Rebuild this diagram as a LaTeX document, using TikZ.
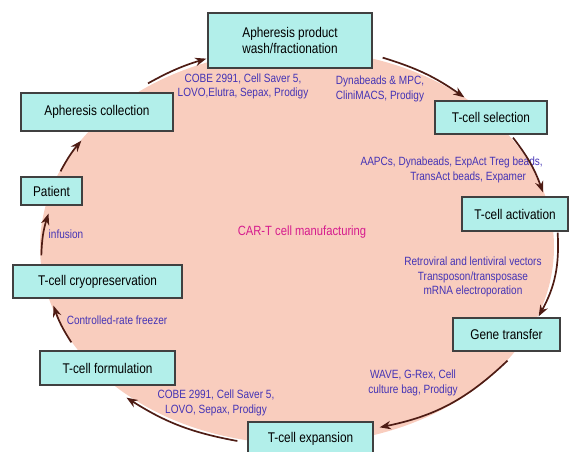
\documentclass[tikz,border=0pt]{standalone}
\usepackage{fontspec}
\setmainfont[FakeStretch=0.84]{Liberation Sans}
\usetikzlibrary{arrows.meta, calc, positioning}

\definecolor{carpink}{HTML}{F9CDBE}
\definecolor{stagecyan}{HTML}{B2EFEA}
\definecolor{toolblue}{HTML}{4433B5}
\definecolor{titlemag}{HTML}{D61C8E}
\definecolor{arrowred}{HTML}{4E1C14}

\tikzset{
  stage/.style={draw=black!75, line width=0.9pt, fill=stagecyan, minimum height=0.85cm,
    inner sep=0pt, align=center, font=\fontsize{10}{12}\selectfont},
  tools/.style={text=toolblue, align=center, inner sep=0pt, font=\fontsize{8.5}{10.5}\selectfont},
  flow/.style={-{Stealth[length=8pt,width=6pt]}, line width=1.2pt, draw=arrowred}
}

\begin{document}
\begin{tikzpicture}[x=0.025cm, y=-0.025cm]
\useasboundingbox (0,0) rectangle (572,452);
\fill[carpink] (297,247) ellipse [x radius=257, y radius=197];

% stages
\node[stage, minimum width=4.1cm, minimum height=1.375cm] (wash) at (290,40.5) {Apheresis product\\wash/fractionation};
\node[stage, minimum width=2.8cm, minimum height=0.825cm] (sel) at (491,117.5) {T-cell selection};
\node[stage, minimum width=2.65cm] (act) at (515,214) {T-cell activation};
\node[stage, minimum width=2.675cm, minimum height=0.825cm] (gene) at (506.5,334.5) {Gene transfer};
\node[stage, minimum width=3.125cm] (exp) at (310.5,439) {T-cell expansion};
\node[stage, minimum width=3.375cm] (form) at (107.5,368) {T-cell formulation};
\node[stage, minimum width=4.225cm, minimum height=0.825cm] (cryo) at (97.5,281.5) {T-cell cryopreservation};
\node[stage, minimum width=1.525cm, minimum height=0.7cm] (pat) at (51.5,191) {Patient};
\node[stage, minimum width=3.8cm, minimum height=0.95cm] (coll) at (97,112) {Apheresis collection};

% tools
\node[tools] (t1) at (243,86.5) {COBE 2991, Cell Saver 5,\\LOVO,Elutra, Sepax, Prodigy};
\node[tools] (t2) at (380,89) {Dynabeads \& MPC,\\CliniMACS, Prodigy};
\node[tools, anchor=east, align=right] (t3) at (543,170) {AAPCs, Dynabeads, ExpAct Treg beads,\\TransAct beads, Expamer\hspace*{1.4em}};
\node[tools] (t4) at (473,277) {Retroviral and lentiviral vectors\\Transposon/transposase\\mRNA electroporation};
\node[tools] (t5) at (413,383) {WAVE, G-Rex, Cell\\culture bag, Prodigy};
\node[tools] (t6) at (216,403) {COBE 2991, Cell Saver 5,\\LOVO, Sepax, Prodigy};
\node[tools] (t7) at (117,320) {Controlled-rate freezer};
\node[tools] (t8) at (66,234) {infusion};
\node[text=titlemag, font=\fontsize{9.5}{11}\selectfont] (title) at (302,232) {CAR-T cell manufacturing};

% cycle
\draw[flow] ($(coll.north)+(51,-9)$) to[bend left=6] ($(wash.south west)+(-1,-10)$);
\draw[flow] ($(wash.south east)+(10,-11)$) to[bend left=9] ($(sel.north west)+(30,-3)$);
\draw[flow] ($(sel.south)+(22,3)$) to[bend left=9] ($(act.north)+(28,-4)$);
\draw[flow] ($(act.south east)+(-11,1)$) to[bend left=16] ($(gene.north east)+(-22,-1)$);
\draw[flow] ($(gene.south)+(1,9)$) to[bend left=16] ($(exp.north east)+(6,6)$);
\draw[flow] ($(exp.west)+(-10,2)$) to[bend left=11] ($(form.south)+(19,12)$);
\draw[flow] ($(form.north west)+(32,-8)$) to[bend left=7] ($(cryo.south)+(-44,7)$);
\draw[flow] ($(cryo.north west)+(29,-9)$) to[bend left=8] ($(pat.south)+(-3,8)$);
\draw[flow] ($(pat.north)+(9,-5)$) to[bend left=6] ($(coll.south west)+(61,9)$);
\end{tikzpicture}
\end{document}
